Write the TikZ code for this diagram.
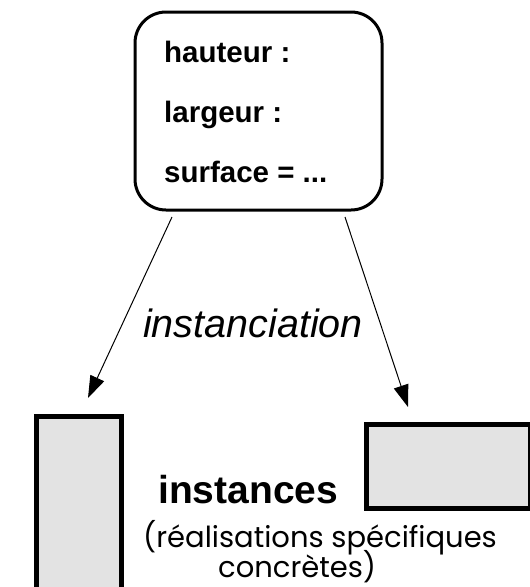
\documentclass[tikz,border=0pt]{standalone}
\usepackage{fontspec}
\setmainfont{Liberation Sans}
\newfontfamily\popfont{Poppins}
\usetikzlibrary{arrows.meta}
\tikzset{
  classbox/.style={draw=black, line width=3pt, rounded corners=31pt, inner sep=0pt},
  instbox/.style={draw=black, fill=black!11, line width=5.5pt, inner sep=0pt},
  attr/.style={anchor=base west, inner sep=0pt, font=\fontsize{29.5}{30}\selectfont\bfseries},
  inst/.style={-{Triangle[length=22pt,width=15pt]}, line width=1pt},
  note/.style={anchor=base west, inner sep=0pt, font=\fontsize{29}{29}\popfont},
}
\begin{document}
\begin{tikzpicture}[x=1pt,y=-1pt]
\useasboundingbox (0,0) rectangle (530,587);
\node[classbox, minimum width=247pt, minimum height=198pt] (cls) at (258.5,111) {};
\node[attr] (h) at (164,62) {hauteur :};
\node[attr] (l) at (164,122) {largeur :};
\node[attr] (s) at (164,182) {surface = ...};
\begin{scope}
\clip (0,0) rectangle (530,587);
\node[instbox, minimum width=85pt, minimum height=180pt, anchor=north west] (r1) at (33.5,413.5) {};
\end{scope}
\node[instbox, minimum width=164pt, minimum height=84pt, anchor=north west] (r2) at (363.5,421.5) {};
\coordinate (a1) at (172,217);
\coordinate (a2) at (345,217);
\coordinate (t1) at (88,398);
\coordinate (t2) at (408,407);
\draw[inst] (a1) -- (t1);
\draw[inst] (a2) -- (t2);
\node[anchor=base west, inner sep=0pt, font=\fontsize{39.5}{40}\selectfont\itshape] (lab) at (143,337) {instanciation};
\node[anchor=base west, inner sep=0pt, font=\fontsize{39}{40}\selectfont\bfseries] (ins) at (158,503) {instances};
\node[note] (p1) at (143,547) {(réalisations spécifiques};
\node[note] (p2) at (218,577) {concrètes)};
\end{tikzpicture}
\end{document}
